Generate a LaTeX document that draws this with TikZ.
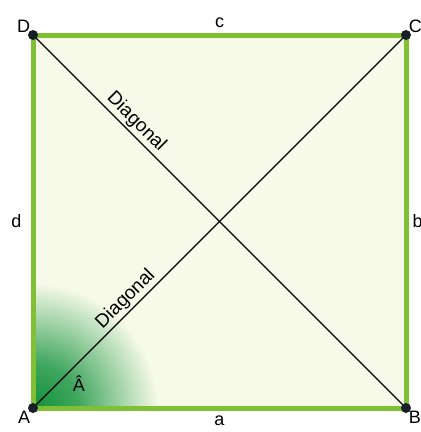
\documentclass[tikz,border=0pt]{standalone}
\usepackage{fontspec}
\setmainfont{Liberation Sans}
\definecolor{edgegreen}{RGB}{128,192,52}
\definecolor{paperfill}{RGB}{247,250,232}
\definecolor{anglegreen}{RGB}{18,145,60}
\definecolor{dotblack}{RGB}{25,30,40}
\pgfdeclareradialshading{anglefade}{\pgfpoint{0bp}{0bp}}{%
  color(0bp)=(anglegreen); color(9bp)=(anglegreen!80!paperfill);
  color(18bp)=(anglegreen!35!paperfill); color(25bp)=(paperfill);
  color(50bp)=(paperfill)}

\begin{document}
\begin{tikzpicture}[x=1pt, y=-1pt,
  vertex/.style = {circle, fill=dotblack, inner sep=0pt, minimum size=10pt},
  side/.style = {draw=edgegreen, line width=5pt, line cap=rect},
  diagonal/.style = {draw=black, line width=1.3pt},
  sidename/.style = {font=\fontsize{18}{18}\selectfont, inner sep=1pt},
  diagname/.style = {font=\fontsize{19}{19}\selectfont, inner sep=2pt},
  every label/.style = {font=\fontsize{18}{18}\selectfont, inner sep=1pt}]
  \useasboundingbox (0,0) rectangle (421,432);
  \coordinate (A) at (33,408);
  \coordinate (B) at (406,408);
  \coordinate (C) at (406,35);
  \coordinate (D) at (33,35);
  % paper and the shaded angle
  \fill[paperfill] (D) rectangle (B);
  \begin{scope}
    \clip (D) rectangle (B);
    \shade[shading=anglefade] (A) circle (125);
  \end{scope}
  \node[sidename] (angleA) at (79,384) {\^A};
  % diagonals
  \draw[diagonal] (D) -- (B) node[diagname, pos=0.255, above, sloped] (diagDB) {Diagonal};
  \draw[diagonal] (A) -- (C) node[diagname, pos=0.27, above, sloped] (diagAC) {Diagonal};
  % sides
  \draw[side] (A) -- node[sidename, below=4pt] (sidea) {a} (B);
  \draw[side] (B) -- node[sidename, right=3pt] (sideb) {b} (C);
  \draw[side] (C) -- node[sidename, above=4pt] (sidec) {c} (D);
  \draw[side] (D) -- node[sidename, left=8pt] (sided) {d} (A);
  % corners
  \node[vertex, label={[label distance=-3pt]above left:D}] (dotD) at (D) {};
  \node[vertex, label={[label distance=-3pt]above right:C}] (dotC) at (C) {};
  \node[vertex, label={[label distance=-3pt]below left:A}] (dotA) at (A) {};
  \node[vertex, label={[label distance=-3pt]below right:B}] (dotB) at (B) {};
\end{tikzpicture}
\end{document}
